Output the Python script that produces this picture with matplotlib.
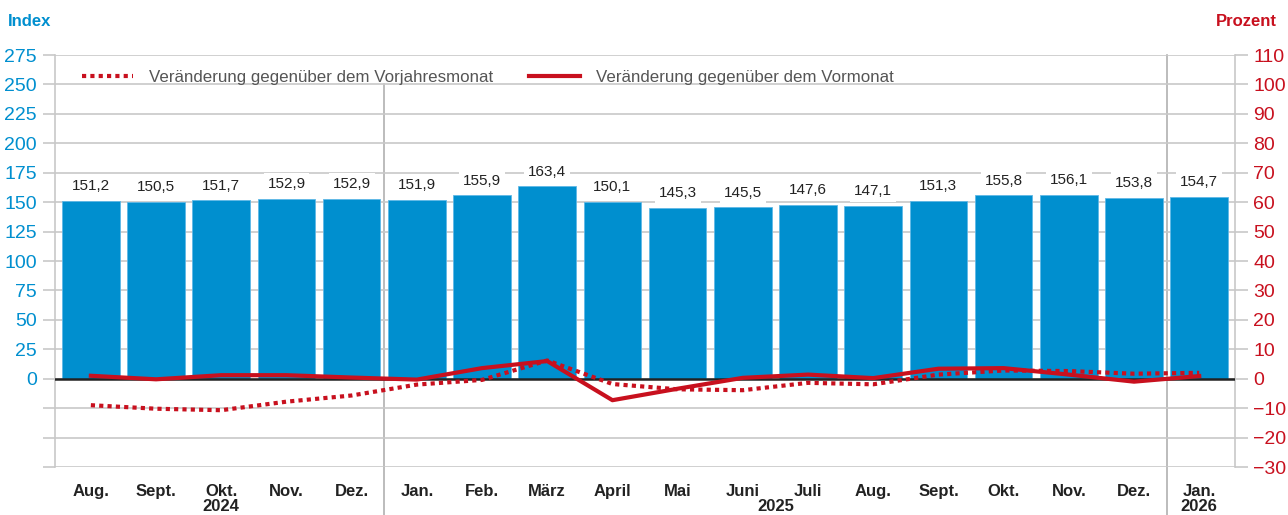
import numpy as np
import matplotlib.pyplot as plt
from matplotlib.transforms import blended_transform_factory

plt.rcParams["font.family"] = ["Liberation Sans", "DejaVu Sans"]

# Daten
monate = ["Aug.", "Sept.", "Okt.", "Nov.", "Dez.", "Jan.", "Feb.", "März", "April",
          "Mai", "Juni", "Juli", "Aug.", "Sept.", "Okt.", "Nov.", "Dez.", "Jan."]
index_werte = [151.2, 150.5, 151.7, 152.9, 152.9, 151.9, 155.9, 163.4, 150.1,
               145.3, 145.5, 147.6, 147.1, 151.3, 155.8, 156.1, 153.8, 154.7]
vorjahr = [-9.0, -10.2, -10.7, -7.8, -5.7, -2.0, -0.4, 6.2, -1.8,
           -3.6, -3.9, -1.4, -1.9, 1.4, 2.8, 2.6, 1.7, 2.0]
vormonat = [1.0, -0.2, 1.2, 1.2, 0.4, -0.3, 3.6, 6.0, -7.3,
            -3.4, 0.3, 1.4, 0.2, 3.4, 3.6, 1.4, -1.0, 0.9]
jahre = ["2024", "2025", "2026"]
jahr_pos = [2, 10.5, 17]

blau = "#008fcf"
rot = "#c8101e"
grau = "#c8c8c8"

fig = plt.figure(figsize=(12.88, 5.15), dpi=100)
ax = fig.add_axes([0.0427, 0.0932, 0.9162, 0.8])
x = np.arange(len(monate))

ax.bar(x, index_werte, width=0.885, color=blau, edgecolor="#5fb8e6", linewidth=0.6, zorder=3)
for xi, v in zip(x, index_werte):
    ax.annotate(("%.1f" % v).replace(".", ","), (xi, v), xytext=(0, 10.5), textcoords="offset points",
                ha="center", va="center", fontsize=11, color="#222222", zorder=5,
                bbox=dict(boxstyle="square,pad=0.25", fc="white", ec="none"))

ax.set_xlim(-0.55, 17.55)
ax.set_ylim(-75, 275)
ax.set_yticks(np.arange(-75, 276, 25))
ax.set_yticklabels(["" if t < 0 else str(t) for t in np.arange(-75, 276, 25)])
ax.grid(axis="y", color=grau, lw=1.2, zorder=0)
ax.tick_params(axis="y", colors=grau, labelcolor=blau, labelsize=14, length=9, width=1.2, pad=4)
ax.axhline(0, color="#222222", lw=1.8, zorder=4)

ax.set_xticks(x)
ax.set_xticklabels(monate, fontweight="bold", fontsize=12, color="#222222")
ax.tick_params(axis="x", length=0, pad=12)

for s in ["top", "bottom"]:
    ax.spines[s].set_visible(False)
for s in ["left", "right"]:
    ax.spines[s].set_color(grau)
    ax.spines[s].set_linewidth(1.2)

trans = blended_transform_factory(ax.transData, ax.transAxes)
for xs, ytop in [(4.5, 325 / 350), (16.5, 1.0)]:
    ax.plot([xs, xs], [-0.15, ytop], transform=trans, color="#b0b0b0", lw=1.2, clip_on=False, zorder=1)
for j, p in zip(jahre, jahr_pos):
    ax.text(p, -0.097, j, transform=trans, ha="center", va="center", fontsize=12,
            fontweight="bold", color="#222222")

ax2 = ax.twinx()
ax2.set_ylim(-30, 110)
ax2.set_yticks(np.arange(-30, 111, 10))
ax2.set_yticklabels([str(t).replace("-", "\u2212") for t in np.arange(-30, 111, 10)])
ax2.tick_params(axis="y", colors=grau, labelcolor=rot, labelsize=14, length=9, width=1.2, pad=4)
for s in ["top", "bottom", "left", "right"]:
    ax2.spines[s].set_visible(False)

ax2.plot(x, vorjahr, color=rot, lw=3, linestyle=(0, (1, 1)), label="Veränderung gegenüber dem Vorjahresmonat", zorder=6)
ax2.plot(x, vormonat, color=rot, lw=3, label="Veränderung gegenüber dem Vormonat", zorder=6)

leg = ax2.legend(loc="upper left", bbox_to_anchor=(0.01, 1.0), ncol=2, frameon=False,
                 fontsize=12.2, handlelength=3.0, handletextpad=0.95, columnspacing=2.1)
for t in leg.get_texts():
    t.set_color("#555555")

fig.text(0.006, 0.958, "Index", color=blau, fontsize=12, fontweight="bold", ha="left", va="center")
fig.text(0.991, 0.958, "Prozent", color=rot, fontsize=12, fontweight="bold", ha="right", va="center")

plt.savefig("out.png", dpi=100)
